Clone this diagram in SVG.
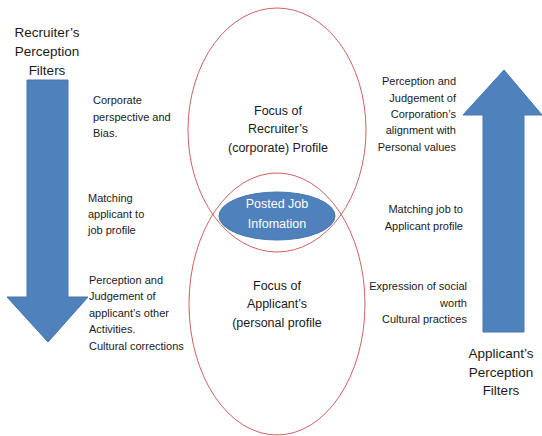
<svg xmlns="http://www.w3.org/2000/svg" width="542" height="436" viewBox="0 0 542 436">
<style>
.t{font-family:"Liberation Sans",Arial,sans-serif;fill:#1a1a1a}
.big{font-size:13.5px}
.mid{font-size:12.5px}
.sm{font-size:11px}
.arrow{fill:#4F81BD;stroke:#4676AE;stroke-width:1}
.circ{fill:none;stroke:#D2615F;stroke-width:1}
.c{text-anchor:middle}
.r{text-anchor:end}
</style>
<rect width="542" height="436" fill="#ffffff"/>
<g id="recruiter-arrow">
<polygon class="arrow" points="27,80 68,80 68,297 88,297 48,342 7,297 27,297"/>
<text class="t big c" x="47" y="37">Recruiter’s</text>
<text class="t big c" x="47" y="56">Perception</text>
<text class="t big c" x="47" y="75">Filters</text>
</g>
<g id="applicant-arrow">
<polygon class="arrow" points="504,70 542,115 524,115 524,332 483,332 483,115 463,115"/>
<text class="t big c" x="501" y="358">Applicant’s</text>
<text class="t big c" x="501" y="377">Perception</text>
<text class="t big c" x="501" y="395">Filters</text>
</g>
<g id="recruiter-focus">
<ellipse class="circ" cx="277" cy="130" rx="89" ry="122"/>
<text class="t mid c" x="278" y="115">Focus of</text>
<text class="t mid c" x="278" y="133">Recruiter’s</text>
<text class="t mid c" x="278" y="152">(corporate) Profile</text>
</g>
<g id="applicant-focus">
<ellipse class="circ" cx="277" cy="304" rx="88" ry="131"/>
<text class="t mid c" x="277" y="290">Focus of</text>
<text class="t mid c" x="277" y="308">Applicant’s</text>
<text class="t mid c" x="277" y="327">(personal profile</text>
</g>
<g id="posted-job">
<ellipse cx="277" cy="216" rx="58" ry="24" fill="#4F81BD" stroke="#4676AE" stroke-width="1"/>
<text class="t mid c" x="277" y="208" style="fill:#ffffff">Posted Job</text>
<text class="t mid c" x="277" y="228" style="fill:#ffffff">Infomation</text>
</g>
<g id="left-labels">
<text class="t sm" x="93" y="104">Corporate</text>
<text class="t sm" x="93" y="121">perspective and</text>
<text class="t sm" x="93" y="137">Bias.</text>
<text class="t sm" x="88" y="202">Matching</text>
<text class="t sm" x="88" y="218">applicant to</text>
<text class="t sm" x="88" y="234">job profile</text>
<text class="t sm" x="89" y="284">Perception and</text>
<text class="t sm" x="89" y="300">Judgement of</text>
<text class="t sm" x="89" y="317">applicant’s other</text>
<text class="t sm" x="89" y="333">Activities.</text>
<text class="t sm" x="89" y="350">Cultural corrections</text>
</g>
<g id="right-labels">
<text class="t sm r" x="456" y="85">Perception and</text>
<text class="t sm r" x="456" y="102">Judgement of</text>
<text class="t sm r" x="456" y="118">Corporation’s</text>
<text class="t sm r" x="456" y="134">alignment with</text>
<text class="t sm r" x="456" y="151">Personal values</text>
<text class="t sm r" x="463" y="213">Matching job to</text>
<text class="t sm r" x="463" y="230">Applicant profile</text>
<text class="t sm r" x="467" y="290">Expression of social</text>
<text class="t sm r" x="467" y="307">worth</text>
<text class="t sm r" x="467" y="323">Cultural practices</text>
</g>
<g id="connectors"></g>
</svg>
